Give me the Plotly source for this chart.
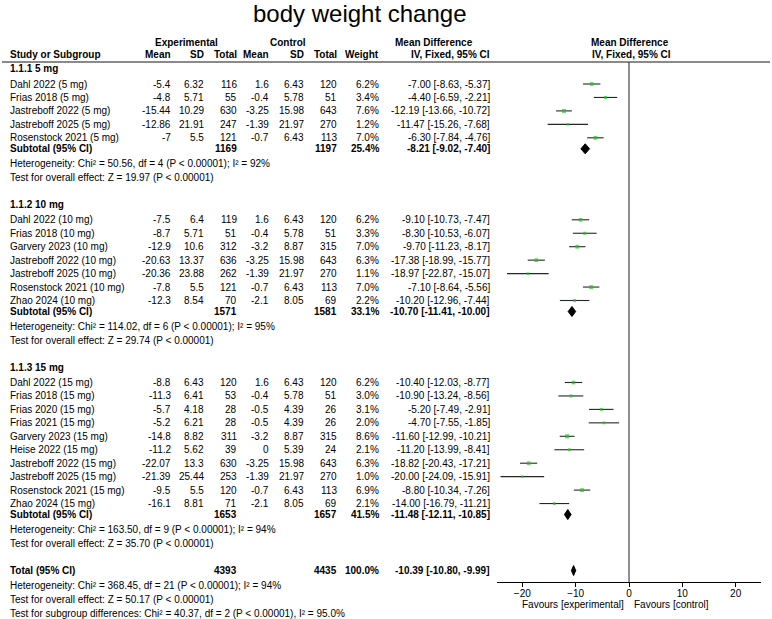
import plotly.graph_objects as go

W, H = 772, 619

# ---------------- data ----------------
group_titles = ["1.1.1 5 mg", "1.1.2 10 mg", "1.1.3 15 mg"]

study_names = [
    ["Dahl 2022 (5 mg)", "Frias 2018 (5 mg)", "Jastreboff 2022 (5 mg)",
     "Jastreboff 2025 (5 mg)", "Rosenstock 2021 (5 mg)"],
    ["Dahl 2022 (10 mg)", "Frias 2018 (10 mg)", "Garvery 2023 (10 mg)",
     "Jastreboff 2022 (10 mg)", "Jastreboff 2025 (10 mg)",
     "Rosenstock 2021 (10 mg)", "Zhao 2024 (10 mg)"],
    ["Dahl 2022 (15 mg)", "Frias 2018 (15 mg)", "Frias 2020 (15 mg)",
     "Frias 2021 (15 mg)", "Garvery 2023 (15 mg)", "Heise 2022 (15 mg)",
     "Jastreboff 2022 (15 mg)", "Jastreboff 2025 (15 mg)",
     "Rosenstock 2021 (15 mg)", "Zhao 2024 (15 mg)"],
]
exp_mean = [[-5.4, -4.8, -15.44, -12.86, -7],
            [-7.5, -8.7, -12.9, -20.63, -20.36, -7.8, -12.3],
            [-8.8, -11.3, -5.7, -5.2, -14.8, -11.2, -22.07, -21.39, -9.5, -16.1]]
exp_sd = [[6.32, 5.71, 10.29, 21.91, 5.5],
          [6.4, 5.71, 10.6, 13.37, 23.88, 5.5, 8.54],
          [6.43, 6.41, 4.18, 6.21, 8.82, 5.62, 13.3, 25.44, 5.5, 8.81]]
exp_n = [[116, 55, 630, 247, 121],
         [119, 51, 312, 636, 262, 121, 70],
         [120, 53, 28, 28, 311, 39, 630, 253, 120, 71]]
ctl_mean = [[1.6, -0.4, -3.25, -1.39, -0.7],
            [1.6, -0.4, -3.2, -3.25, -1.39, -0.7, -2.1],
            [1.6, -0.4, -0.5, -0.5, -3.2, 0, -3.25, -1.39, -0.7, -2.1]]
ctl_sd = [[6.43, 5.78, 15.98, 21.97, 6.43],
          [6.43, 5.78, 8.87, 15.98, 21.97, 6.43, 8.05],
          [6.43, 5.78, 4.39, 4.39, 8.87, 5.39, 15.98, 21.97, 6.43, 8.05]]
ctl_n = [[120, 51, 643, 270, 113],
         [120, 51, 315, 643, 270, 113, 69],
         [120, 51, 26, 26, 315, 24, 643, 270, 113, 69]]
weight = [[6.2, 3.4, 7.6, 1.2, 7.0],
          [6.2, 3.3, 7.0, 6.3, 1.1, 7.0, 2.2],
          [6.2, 3.0, 3.1, 2.0, 8.6, 2.1, 6.3, 1.0, 6.9, 2.1]]
md = [[-7.00, -4.40, -12.19, -11.47, -6.30],
      [-9.10, -8.30, -9.70, -17.38, -18.97, -7.10, -10.20],
      [-10.40, -10.90, -5.20, -4.70, -11.60, -11.20, -18.82, -20.00, -8.80, -14.00]]
md_lo = [[-8.63, -6.59, -13.66, -15.26, -7.84],
         [-10.73, -10.53, -11.23, -18.99, -22.87, -8.64, -12.96],
         [-12.03, -13.24, -7.49, -7.55, -12.99, -13.99, -20.43, -24.09, -10.34, -16.79]]
md_hi = [[-5.37, -2.21, -10.72, -7.68, -4.76],
         [-7.47, -6.07, -8.17, -15.77, -15.07, -5.56, -7.44],
         [-8.77, -8.56, -2.91, -1.85, -10.21, -8.41, -17.21, -15.91, -7.26, -11.21]]

sub_exp_n = [1169, 1571, 1653]
sub_ctl_n = [1197, 1581, 1657]
sub_weight = [25.4, 33.1, 41.5]
sub_md = [-8.21, -10.70, -11.48]
sub_lo = [-9.02, -11.41, -12.11]
sub_hi = [-7.40, -10.00, -10.85]
sub_het = ["Heterogeneity: Chi² = 50.56, df = 4 (P < 0.00001); I² = 92%",
           "Heterogeneity: Chi² = 114.02, df = 6 (P < 0.00001); I² = 95%",
           "Heterogeneity: Chi² = 163.50, df = 9 (P < 0.00001); I² = 94%"]
sub_test = ["Test for overall effect: Z = 19.97 (P < 0.00001)",
            "Test for overall effect: Z = 29.74 (P < 0.00001)",
            "Test for overall effect: Z = 35.70 (P < 0.00001)"]

total_exp_n = 4393
total_ctl_n = 4435
total_weight = 100.0
total_md = -10.39
total_lo = -10.80
total_hi = -9.99
total_notes = ["Heterogeneity: Chi² = 368.45, df = 21 (P < 0.00001); I² = 94%",
               "Test for overall effect: Z = 50.17 (P < 0.00001)",
               "Test for subgroup differences: Chi² = 40.37, df = 2 (P < 0.00001), I² = 95.0%"]

tick_values = [-20, -10, 0, 10, 20]

# ---------------- layout helpers ----------------
FONT = "Liberation Sans, Arial, sans-serif"
FS = 10
AXIS_Y = 582          # pixel row of the forest x-axis
X_STUDY = 10
X_EM, X_ESD, X_EN = 171, 204, 237
X_CM, X_CSD, X_CN = 269, 304, 337
X_W = 379
X_MD = 490

annotations = []


def txt(x, y, s, anchor="left", bold=False, size=FS):
    annotations.append(dict(
        x=x / W, y=1 - y / H, xref="paper", yref="paper",
        text=f"<b>{s}</b>" if bold else s, showarrow=False,
        xanchor=anchor, yanchor="middle",
        font=dict(family=FONT, size=size, color="black"),
        borderpad=0, borderwidth=0))


def fmt(v):
    return f"{v:g}"


def ci_text(m, lo, hi):
    return f"{m:.2f} [{lo:.2f}, {hi:.2f}]"


fig = go.Figure()


def diamond(yc, m, lo, hi):
    fig.add_trace(go.Scatter(
        x=[lo, m, hi, m, lo], y=[yc, yc - 5, yc, yc + 5, yc],
        mode="lines", fill="toself", fillcolor="black",
        line=dict(color="black", width=1), hoverinfo="skip"))


# title
txt(360, 13, "body weight change", anchor="center", size=24)

# headers
txt(186, 42, "Experimental", "center", True)
txt(288, 42, "Control", "center", True)
txt(395, 42, "Mean Difference", "left", True)
txt(630, 42, "Mean Difference", "center", True)
txt(X_STUDY, 55, "Study or Subgroup", "left", True)
for x, s in [(X_EM, "Mean"), (X_ESD, "SD"), (X_EN, "Total"),
             (X_CM, "Mean"), (X_CSD, "SD"), (X_CN, "Total"),
             (X_W, "Weight"), (X_MD, "IV, Fixed, 95% CI")]:
    txt(x, 55, s, "right", True)
txt(631, 55, "IV, Fixed, 95% CI", "center", True)

STEP = 13.45
y = 69.0
for g in range(len(group_titles)):
    txt(X_STUDY, y, group_titles[g], bold=True)
    ys = []
    yy = y + 15
    for i, name in enumerate(study_names[g]):
        ys.append(yy)
        txt(X_STUDY, yy, name)
        txt(X_EM, yy, fmt(exp_mean[g][i]), "right")
        txt(X_ESD, yy, fmt(exp_sd[g][i]), "right")
        txt(X_EN, yy, str(exp_n[g][i]), "right")
        txt(X_CM, yy, fmt(ctl_mean[g][i]), "right")
        txt(X_CSD, yy, fmt(ctl_sd[g][i]), "right")
        txt(X_CN, yy, str(ctl_n[g][i]), "right")
        txt(X_W, yy, f"{weight[g][i]:.1f}%", "right")
        txt(X_MD, yy, ci_text(md[g][i], md_lo[g][i], md_hi[g][i]), "right")
        yy += STEP
    # CI lines
    cx, cy = [], []
    for i in range(len(ys)):
        cx += [md_lo[g][i], md_hi[g][i], None]
        cy += [ys[i], ys[i], None]
    fig.add_trace(go.Scatter(x=cx, y=cy, mode="lines",
                             line=dict(color="#262626", width=1.1), hoverinfo="skip"))
    fig.add_trace(go.Scatter(
        x=md[g], y=ys, mode="markers",
        marker=dict(symbol="square", color="#22c022",
                    size=[2.4 + 0.2 * w for w in weight[g]], line=dict(width=0)),
        hoverinfo="skip"))
    ysub = ys[-1] + 11
    txt(X_STUDY, ysub, "Subtotal (95% CI)", bold=True)
    txt(X_EN, ysub, str(sub_exp_n[g]), "right", True)
    txt(X_CN, ysub, str(sub_ctl_n[g]), "right", True)
    txt(X_W, ysub, f"{sub_weight[g]:.1f}%", "right", True)
    txt(X_MD, ysub, ci_text(sub_md[g], sub_lo[g], sub_hi[g]), "right", True)
    diamond(ysub, sub_md[g], sub_lo[g], sub_hi[g])
    txt(X_STUDY, ysub + 15, sub_het[g])
    txt(X_STUDY, ysub + 29, sub_test[g])
    y = ysub + 56

# total
ytot = y
txt(X_STUDY, ytot, "Total (95% CI)", bold=True)
txt(X_EN, ytot, str(total_exp_n), "right", True)
txt(X_CN, ytot, str(total_ctl_n), "right", True)
txt(X_W, ytot, f"{total_weight:.1f}%", "right", True)
txt(X_MD, ytot, ci_text(total_md, total_lo, total_hi), "right", True)
diamond(ytot, total_md, total_lo, total_hi)
for k, note in enumerate(total_notes):
    txt(X_STUDY, ytot + 15 + 14 * k, note)

# favours labels
txt(624, 604, "Favours [experimental]", "right")
txt(634, 604, "Favours [control]", "left")

shapes = [
    # header rule
    dict(type="line", xref="paper", yref="paper", x0=2 / W, x1=770 / W,
         y0=1 - 62 / H, y1=1 - 62 / H, line=dict(color="#8a8a8a", width=2)),
    # line of no effect
    dict(type="line", xref="x", yref="y", x0=0, x1=0, y0=62, y1=AXIS_Y,
         line=dict(color="#444444", width=1.2)),
]

fig.update_layout(
    width=W, height=H, margin=dict(l=0, r=0, t=0, b=0),
    paper_bgcolor="white", plot_bgcolor="white", showlegend=False,
    annotations=annotations, shapes=shapes,
    font=dict(family=FONT, size=FS, color="black"),
    xaxis=dict(domain=[497 / W, 761 / W], range=[-24.75, 24.75],
               showgrid=False, zeroline=False, showline=True,
               linecolor="black", linewidth=1, ticks="outside", ticklen=4,
               tickcolor="black", tickvals=tick_values, ticklabelstandoff=-2,
               tickfont=dict(family=FONT, size=10, color="black")),
    yaxis=dict(domain=[1 - AXIS_Y / H, 1], range=[AXIS_Y, 0], visible=False,
               showgrid=False, zeroline=False),
)

fig.write_html("out.html",
               config={"displayModeBar": False},
               post_script="document.body.style.margin='0px';"
                           "document.body.style.overflow='hidden';")
